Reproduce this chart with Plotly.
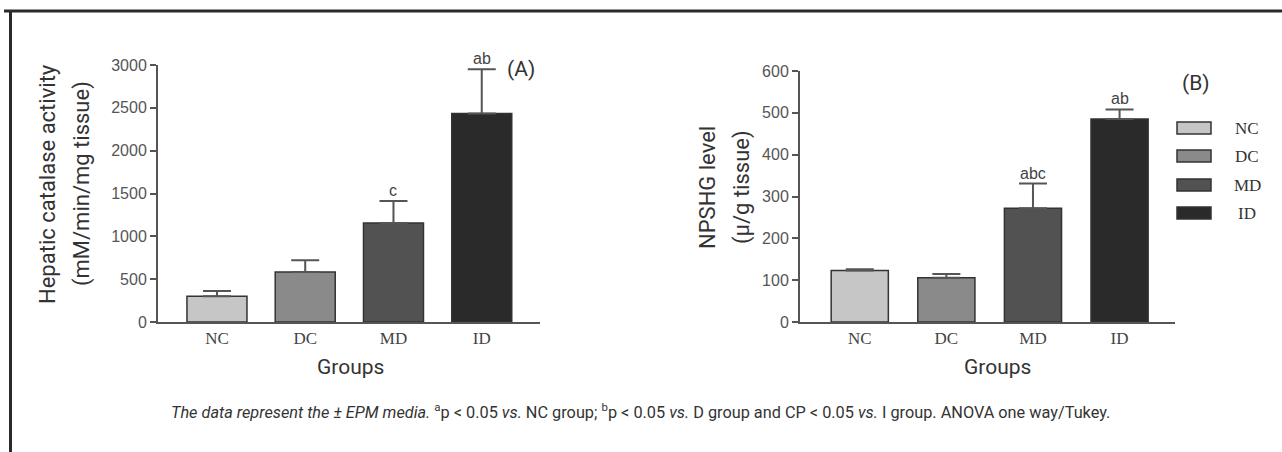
import plotly.graph_objects as go

W, H = 1282, 452

groups = ["NC", "DC", "MD", "ID"]
bar_colors = ["#c6c6c6", "#8a8a8a", "#525252", "#2a2a2a"]

# Panel A: hepatic catalase activity
catalase_mean = [300, 584, 1157, 2435]
catalase_err_top = [362, 721, 1411, 2950]
catalase_letters = ["", "", "c", "ab"]

# Panel B: NPSHG level
npshg_mean = [123, 106, 272, 485]
npshg_err_top = [126, 115, 331, 508]
npshg_letters = ["", "", "abc", "ab"]

y_ticks_a = [0, 500, 1000, 1500, 2000, 2500, 3000]
y_ticks_b = [0, 100, 200, 300, 400, 500, 600]

caption = ("<i>The data represent the ± EPM media.</i> <sup>a</sup>p < 0.05 <i>vs.</i> NC group; "
           "<sup>b</sup>p < 0.05 <i>vs.</i> D group and CP < 0.05 <i>vs.</i> I group. ANOVA one way/Tukey.")

SANS_N = "Roboto, Liberation Sans, sans-serif"
SANS = "Liberation Sans, Arial, sans-serif"
SERIF = "Liberation Serif, Times New Roman, serif"

def px(x):
    return x / W

def py(y):
    return 1 - y / H

fig = go.Figure()

for vals, tops, xa, ya, w in [
    (catalase_mean, catalase_err_top, "x", "y", 0.68),
    (npshg_mean, npshg_err_top, "x2", "y2", 0.66),
]:
    fig.add_trace(go.Bar(
        x=groups, y=vals, xaxis=xa, yaxis=ya, width=w,
        marker=dict(color=bar_colors, line=dict(color="#333333", width=1.5)),
        error_y=dict(type="data", symmetric=False,
                     array=[t - v for t, v in zip(tops, vals)],
                     arrayminus=[0] * len(vals),
                     color="#555555", thickness=2, width=14),
        showlegend=False, hoverinfo="skip",
    ))

axis_common = dict(showgrid=False, zeroline=False, showline=True, linecolor="#555555",
                   linewidth=2, ticks="outside", ticklen=6, tickwidth=2, tickcolor="#555555",
                   automargin=False)
xaxis_common = dict(type="category", showline=True, linecolor="#555555", linewidth=2,
                    ticks="", showgrid=False, zeroline=False, automargin=False,
                    tickfont=dict(family=SERIF, size=17, color="#444444"))

fig.update_layout(
    template="none",
    width=W, height=H, margin=dict(l=0, r=0, t=0, b=0, pad=0, autoexpand=False),
    paper_bgcolor="white", plot_bgcolor="white",
    xaxis=dict(domain=[px(158), px(540)], anchor="y", range=[-0.668, 3.66], **xaxis_common),
    yaxis=dict(domain=[py(322), py(65)], anchor="x", range=[0, 3000],
               tickvals=y_ticks_a, tickfont=dict(family=SANS, size=16, color="#555555"),
               **axis_common),
    xaxis2=dict(domain=[px(800), px(1175)], anchor="y2", range=[-0.69, 3.64], **xaxis_common),
    yaxis2=dict(domain=[py(322), py(71)], anchor="x2", range=[0, 600],
                tickvals=y_ticks_b, tickfont=dict(family=SANS, size=16, color="#555555"),
                **axis_common),
)

ann = []
# significance letters
for xa, ya, tops, letters in [("x", "y", catalase_err_top, catalase_letters),
                              ("x2", "y2", npshg_err_top, npshg_letters)]:
    for g, t, l in zip(groups, tops, letters):
        if l:
            ann.append(dict(x=g, y=t, xref=xa, yref=ya, text=l, showarrow=False,
                            yanchor="bottom", yshift=0,
                            font=dict(family=SANS, size=16, color="#444444")))

def txt(x, y, s, size, fam=SANS_N, angle=0, color="#333333"):
    ann.append(dict(x=px(x), y=py(y), xref="paper", yref="paper", text=s, showarrow=False,
                    xanchor="center", yanchor="middle", textangle=angle,
                    font=dict(family=fam, size=size, color=color)))

# y titles
txt(48, 184, "Hepatic catalase activity", 22, angle=-90)
txt(82, 184, "(mM/min/mg tissue)", 22, angle=-90)
txt(708, 187, "NPSHG level", 22, angle=-90)
txt(742, 187, "(µ/g tissue)", 22, angle=-90)
# x titles
txt(350, 367, "Groups", 21)
txt(997, 367, "Groups", 21)
# panel labels
txt(521, 69, "(A)", 21)
txt(1196, 83, "(B)", 21)
# caption
txt(640, 411, caption, 16.3, color="#333333")

# legend (panel B)
legend_y = [128, 156, 185, 213]
for g, c, yy in zip(groups, bar_colors, legend_y):
    fig.add_shape(type="rect", xref="paper", yref="paper",
                  x0=px(1177), x1=px(1211), y0=py(yy + 6), y1=py(yy - 6),
                  fillcolor=c, line=dict(color="#333333", width=1.5))
    txt(1247, yy, g, 17, fam=SERIF, color="#333333")

fig.update_layout(annotations=ann)

# frame lines
fig.add_shape(type="line", xref="paper", yref="paper", x0=px(4), x1=1, y0=py(11), y1=py(11),
              line=dict(color="#2a2a2a", width=3))
fig.add_shape(type="line", xref="paper", yref="paper", x0=px(10.5), x1=px(10.5), y0=py(11), y1=0,
              line=dict(color="#2a2a2a", width=3))

fig.write_html("out.html", config={"displayModeBar": False},
               post_script="document.body.style.margin='0';document.body.style.overflow='hidden';")
